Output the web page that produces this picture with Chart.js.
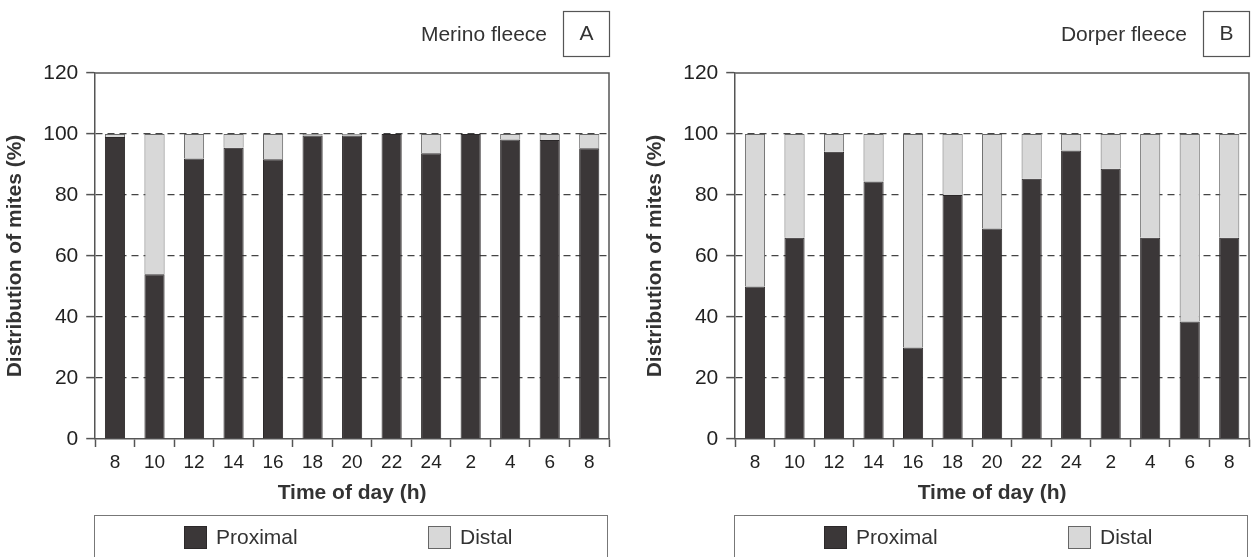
<!DOCTYPE html>
<html>
<head>
<meta charset="utf-8">
<script src="https://cdn.jsdelivr.net/npm/chart.js@4"></script>
<style>
  body { margin: 0; background: #fff; overflow: hidden; width: 1258px; height: 557px; }
  .panel { position: absolute; top: 0; width: 620px; height: 557px; }
  .legend { position: absolute; left: 94px; top: 515px; width: 514px; height: 70px;
            border: 1px solid #777; box-sizing: border-box;
            font: 21px "Liberation Sans", Arial, sans-serif; color: #333; }
  .legend span { position: absolute; }
  .legend .sw { width: 23px; height: 23px; top: 10px; box-sizing: border-box; border: 1px solid #555; }
  .legend .tx { top: 9px; line-height: 24px; }
</style>
</head>
<body>
<div class="panel" style="left:0"><canvas id="chartA" width="620" height="557"></canvas><div class="legend" id="legendA"></div></div>
<div class="panel" style="left:640px"><canvas id="chartB" width="620" height="557"></canvas><div class="legend" id="legendB"></div></div>
<script>
// time of day categories (shared by both panels)
const timeLabels = ['8', '10', '12', '14', '16', '18', '20', '22', '24', '2', '4', '6', '8']
const yTicks = [0, 20, 40, 60, 80, 100, 120]

// Merino fleece (A), % of mites
const merinoProximal = [99, 54, 92, 95.5, 91.7, 99.5, 99.5, 100, 93.7, 100, 98.2, 98, 95.3]
const merinoDistal = [1, 46, 8, 4.5, 8.3, 0.5, 0.5, 0, 6.3, 0, 1.8, 2, 4.7]

// Dorper fleece (B), % of mites
const dorperProximal = [50, 66, 94.2, 84.4, 30, 80, 69, 85.3, 94.6, 88.6, 66, 38.5, 66]
const dorperDistal = [50, 34, 5.8, 15.6, 70, 20, 31, 14.7, 5.4, 11.4, 34, 61.5, 34]

Chart.defaults.font.family = '"Liberation Sans", Arial, sans-serif'
Chart.defaults.color = '#333'

// frame on top/right plus the caption with the boxed panel letter
const framePlugin = {
  id: 'frame',
  afterDraw(chart, args, opts) {
    const ctx = chart.ctx
    const a = chart.chartArea
    ctx.save()
    ctx.strokeStyle = '#555'
    ctx.lineWidth = 1.5
    ctx.beginPath()
    ctx.moveTo(a.left, a.top)
    ctx.lineTo(a.right, a.top)
    ctx.lineTo(a.right, a.bottom)
    ctx.stroke()

    ctx.font = '21px "Liberation Sans", Arial, sans-serif'
    ctx.fillStyle = '#333'
    ctx.textBaseline = 'middle'
    ctx.textAlign = 'right'
    ctx.fillText(opts.caption, a.right - 62, 35)
    ctx.lineWidth = 1.2
    ctx.strokeRect(a.right - 45.5, 11.5, 46, 45)
    ctx.textAlign = 'center'
    ctx.fillText(opts.letter, a.right - 22.5, 34.5)
    ctx.restore()
  }
}

function buildLegend(chart, el) {
  const pos = [[89, 121], [333, 365]]
  chart.data.datasets.forEach((ds, i) => {
    const sw = document.createElement('span')
    sw.className = 'sw'
    sw.style.left = pos[i][0] + 'px'
    sw.style.background = ds.backgroundColor
    sw.style.borderColor = ds.borderColor
    const tx = document.createElement('span')
    tx.className = 'tx'
    tx.style.left = pos[i][1] + 'px'
    tx.textContent = ds.label
    el.appendChild(sw)
    el.appendChild(tx)
  })
}

function fleeceChart(canvasId, legendId, caption, letter, proximal, distal) {
  const chart = new Chart(document.getElementById(canvasId), {
    type: 'bar',
    data: {
      labels: timeLabels,
      datasets: [
        {
          label: 'Proximal',
          data: proximal,
          backgroundColor: '#3b3738',
          borderColor: '#2b2829',
          borderWidth: 1
        },
        {
          label: 'Distal',
          data: distal,
          backgroundColor: '#d8d8d8',
          borderColor: '#666',
          borderWidth: 1
        }
      ]
    },
    options: {
      responsive: false,
      animation: false,
      barPercentage: 0.51,
      categoryPercentage: 1,
      layout: { padding: { left: 3, right: 11, top: 73, bottom: 51 } },
      plugins: {
        legend: { display: false },
        tooltip: { enabled: false },
        frame: { caption: caption, letter: letter }
      },
      scales: {
        x: {
          stacked: true,
          ticks: { color: '#222', font: { size: 19 }, padding: 4, maxRotation: 0, autoSkip: false },
          grid: { drawOnChartArea: false, tickLength: 8, tickColor: '#555', tickWidth: 1.5, offset: true },
          border: { color: '#555', width: 1.5 },
          title: { display: true, text: 'Time of day (h)', color: '#333',
                   font: { size: 21, weight: 'bold' }, padding: { top: 3, bottom: 0 } }
        },
        y: {
          stacked: true,
          min: yTicks[0],
          max: yTicks[yTicks.length - 1],
          afterBuildTicks: axis => { axis.ticks = yTicks.map(v => ({ value: v })) },
          ticks: { color: '#222', font: { size: 21 }, padding: 8 },
          grid: {
            color: c => (c.tick && (c.tick.value === 0 || c.tick.value === 120)) ? 'rgba(0,0,0,0)' : '#444',
            lineWidth: 1.2,
            tickLength: 9,
            tickColor: '#555',
            tickWidth: 1.5
          },
          border: { color: '#555', width: 1.5, dash: [7, 5] },
          title: { display: true, text: 'Distribution of mites (%)', color: '#333',
                   font: { size: 21, weight: 'bold' }, padding: { top: 0, bottom: 7 } }
        }
      }
    },
    plugins: [framePlugin]
  })
  buildLegend(chart, document.getElementById(legendId))
  return chart
}

fleeceChart('chartA', 'legendA', 'Merino fleece', 'A', merinoProximal, merinoDistal)
fleeceChart('chartB', 'legendB', 'Dorper fleece', 'B', dorperProximal, dorperDistal)
</script>
</body>
</html>
